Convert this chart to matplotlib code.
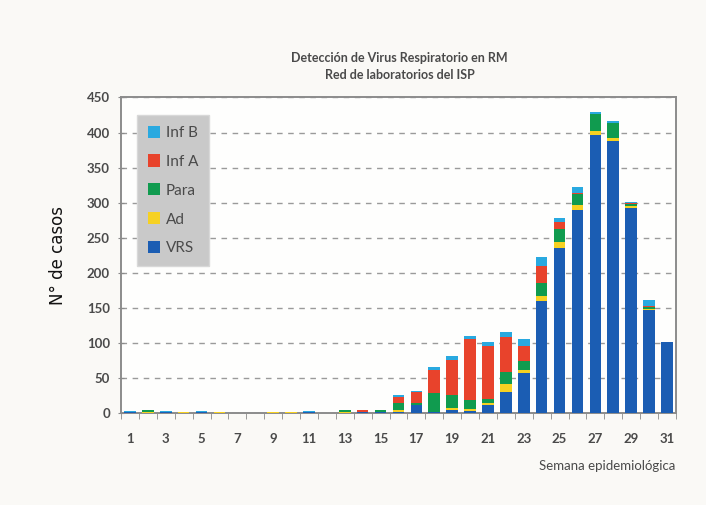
import matplotlib
matplotlib.use("Agg")
import matplotlib.pyplot as plt
import numpy as np

# Epidemiological weeks
weeks = list(range(1, 32))

# Weekly detections by virus (stacked bottom to top: VRS, Ad, Para, Inf A, Inf B)
vrs = [1, 0, 1, 0, 1, 0, 0, 0, 0, 0, 1, 0, 0, 1, 2, 2, 11, 1, 4, 3,
       11, 30, 57, 160, 235, 289, 397, 388, 292, 147, 101]
ad = [0, 1, 0, 1, 0, 1, 0, 0, 2, 1, 0, 0, 1, 1, 0, 3, 1, 1, 3, 3,
      3, 12, 5, 7, 9, 7, 5, 4, 3, 2, 1]
para = [0, 3, 0, 0, 0, 0, 0, 0, 0, 0, 0, 0, 3, 0, 2, 10, 2, 26, 19, 13,
        6, 16, 12, 19, 19, 16, 24, 21, 3, 2, 0]
inf_a = [0, 0, 0, 0, 0, 0, 0, 0, 0, 0, 0, 0, 0, 3, 0, 8, 16, 33, 50, 86,
         75, 50, 22, 24, 10, 2, 1, 1, 1, 1, 0]
inf_b = [2, 0, 2, 0, 2, 0, 0, 0, 0, 0, 2, 0, 0, 0, 1, 3, 2, 5, 5, 5,
         7, 8, 10, 12, 5, 8, 2, 2, 2, 9, 0]

series = [("VRS", vrs, "#1b5db3"),
          ("Ad", ad, "#f6d122"),
          ("Para", para, "#109b4f"),
          ("Inf A", inf_a, "#e8432c"),
          ("Inf B", inf_b, "#29a9e0")]

x_labels = [str(w) for w in weeks[::2]]
y_ticks = list(range(0, 451, 50))

text_gray = "#4a4a4a"
font = ["Lato", "DejaVu Sans"]

fig = plt.figure(figsize=(7.06, 5.05), dpi=100, facecolor="#faf9f6")
ax = fig.add_axes([0.1714, 0.182, 0.786, 0.625])
ax.set_facecolor("#fefefd")

bottom = np.zeros(len(weeks))
handles = {}
for name, vals, color in series:
    vals = np.array(vals, dtype=float)
    bars = ax.bar(weeks, vals, width=0.65, bottom=bottom, color=color,
                  edgecolor="none", zorder=3)
    handles[name] = bars
    bottom += vals

ax.set_xlim(0.5, 31.5)
ax.set_ylim(0, 450)

# Dashed grid
ax.set_yticks(y_ticks)
ax.yaxis.grid(True, linestyle=(0, (4, 4)), color="#9a9a9a", linewidth=1.0, zorder=1)
ax.set_axisbelow(True)

ax.set_xticks(weeks[::2])
ax.set_xticklabels(x_labels)
ax.set_xticks(np.arange(0.5, 31.6, 1.0), minor=True)
ax.tick_params(axis="x", which="major", length=0, pad=14, labelsize=9.5,
               labelcolor=text_gray)
ax.tick_params(axis="x", which="minor", length=4, direction="out", color="#8a8a8a")
ax.tick_params(axis="y", which="major", length=4, direction="inout", color="#8a8a8a",
               labelsize=9.5, labelcolor=text_gray, pad=6)
for lab in ax.get_xticklabels() + ax.get_yticklabels():
    lab.set_family(font)
    lab.set_fontweight("bold")

for side in ["left", "right", "top", "bottom"]:
    ax.spines[side].set_color("#8c8c8c")
    ax.spines[side].set_linewidth(1.4)

ax.set_ylabel("N° de casos", fontsize=12, color="#111111", labelpad=14,
              family=["DejaVu Sans"])

fig.text(0.957, 0.077, "Semana epidemiológica", ha="right", va="center",
         fontsize=9.5, color=text_gray, family=font)

fig.text(0.566, 0.885, "Detección de Virus Respiratorio en RM", ha="center",
         va="center", fontsize=9, color=text_gray, family=font, fontweight="bold")
fig.text(0.566, 0.851, "Red de laboratorios del ISP", ha="center",
         va="center", fontsize=9, color=text_gray, family=font, fontweight="bold")

order = ["Inf B", "Inf A", "Para", "Ad", "VRS"]
leg = ax.legend([handles[n] for n in order], order, loc="upper left",
                bbox_to_anchor=(0.0288, 0.945), frameon=True, fancybox=False,
                labelspacing=0.95, handlelength=0.8, handleheight=0.85,
                handletextpad=0.4, borderpad=0.7, borderaxespad=0.0,
                prop={"family": font, "size": 11})
leg.get_frame().set_facecolor("#c9c9c9")
leg.get_frame().set_edgecolor("#d8d8d8")
leg.get_frame().set_alpha(1.0)
for t in leg.get_texts():
    t.set_color(text_gray)

fig.savefig("out.png", dpi=100, facecolor=fig.get_facecolor())
